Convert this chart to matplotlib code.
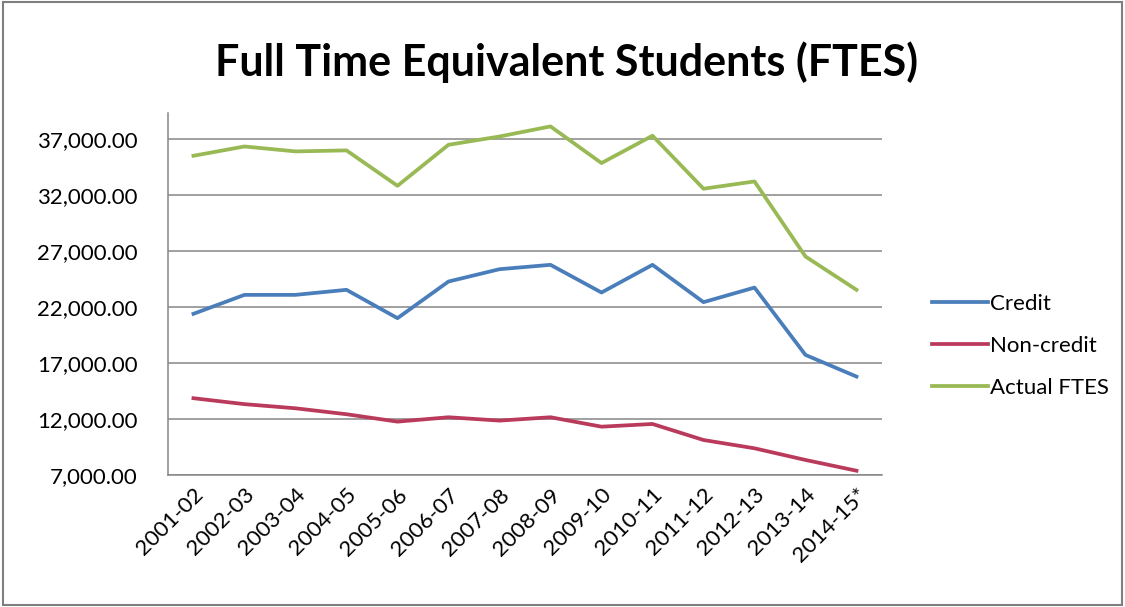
import matplotlib.pyplot as plt
from matplotlib.patches import Rectangle
from matplotlib.ticker import FuncFormatter, MultipleLocator

years = ["2001-02", "2002-03", "2003-04", "2004-05", "2005-06", "2006-07", "2007-08",
         "2008-09", "2009-10", "2010-11", "2011-12", "2012-13", "2013-14", "2014-15*"]
credit = [21380, 23070, 23070, 23520, 20990, 24260, 25360,
          25750, 23280, 25750, 22420, 23720, 17710, 15780]
non_credit = [13850, 13320, 12950, 12420, 11760, 12150, 11850,
              12150, 11310, 11550, 10120, 9380, 8340, 7380]
actual_ftes = [35480, 36310, 35870, 35960, 32800, 36460, 37200,
               38100, 34830, 37270, 32540, 33190, 26490, 23520]

plt.rcParams['font.family'] = ['Lato', 'DejaVu Sans']

fig = plt.figure(figsize=(11.25, 6.07), dpi=100)
ax = fig.add_axes([0.1493, 0.2175, 0.6347, 0.5964])

x = range(len(years))
ax.plot(x, credit, color="#4A7EBB", lw=2.7, label="Credit")
ax.plot(x, non_credit, color="#BA3A5C", lw=2.7, label="Non-credit")
ax.plot(x, actual_ftes, color="#98B954", lw=2.7, label="Actual FTES")

ax.set_xlim(-0.5, len(years) - 0.5)
ax.set_ylim(7000, 39300)
# gridlines start at 7,000 and step by 5,000
ax.yaxis.set_major_locator(MultipleLocator(5000, offset=7000))
ax.yaxis.set_major_formatter(FuncFormatter(lambda v, p: f"{v:,.2f}"))
ax.grid(axis="y", color="#868686", lw=1.1)
ax.set_axisbelow(True)

ax.set_xticks(list(x))
ax.set_xticklabels(years, rotation=45, ha="right", rotation_mode="anchor")
ax.tick_params(axis="x", length=0, pad=7, labelsize=16)
ax.tick_params(axis="y", length=0, pad=22, labelsize=16)
for lbl in ax.get_xticklabels():
    lbl.set_x(lbl.get_position()[0] + 0.15)

for s in ["top", "right"]:
    ax.spines[s].set_visible(False)
for s in ["left", "bottom"]:
    ax.spines[s].set_color("#868686")
    ax.spines[s].set_linewidth(1.1)

fig.text(0.504, 1 - 62 / 607, "Full Time Equivalent Students (FTES)",
         ha="center", va="center", fontsize=31, fontweight="bold")

fig.legend(loc="center left", bbox_to_anchor=(912 / 1125, 1 - 346 / 607),
           frameon=False, fontsize=16, handlelength=2.5, handletextpad=0.1,
           labelspacing=1.0)

fig.patches.append(Rectangle((0.003, 0.004), 0.994, 0.992, transform=fig.transFigure,
                             fill=False, edgecolor="#7f7f7f", lw=1.5))

fig.savefig("out.png", dpi=100)
